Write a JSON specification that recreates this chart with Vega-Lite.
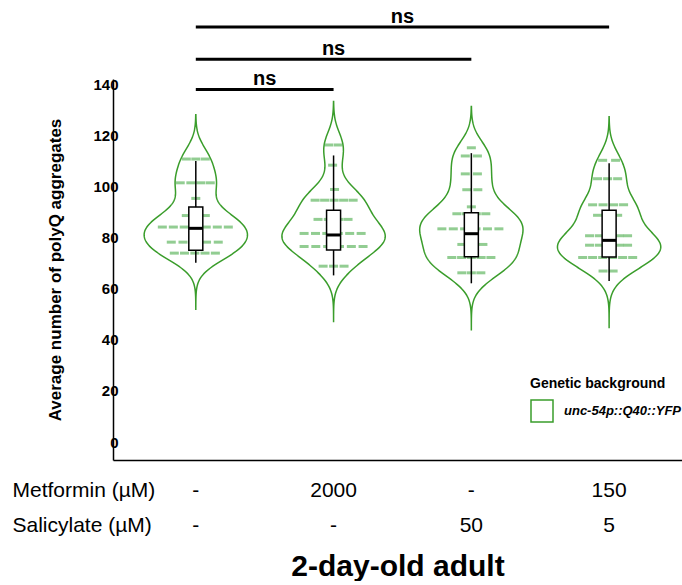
{
  "$schema": "https://vega.github.io/schema/vega-lite/v6.json",
  "padding": {"left": 12, "top": 7, "right": 0, "bottom": 0},
  "bounds": "flush",
  "spacing": 13,
  "config": {"font": "Liberation Sans", "view": {"stroke": null}, "axis": {"grid": false}, "scale": {"continuousPadding": 0}},
  "resolve": {"scale": {"x": "independent", "y": "independent"}, "legend": {"stroke": "independent"}},
  "datasets": {
    "points": [
      {"pos":1,"xj":0.931,"value":110.7},{"pos":1,"xj":1.000,"value":110.7},{"pos":1,"xj":1.069,"value":110.7},
      {"pos":1,"xj":0.887,"value":101.4},{"pos":1,"xj":0.964,"value":101.4},{"pos":1,"xj":1.036,"value":101.4},{"pos":1,"xj":1.105,"value":101.4},
      {"pos":1,"xj":1.000,"value":95.3},
      {"pos":1,"xj":0.931,"value":88.6},{"pos":1,"xj":1.000,"value":88.6},{"pos":1,"xj":1.069,"value":88.6},
      {"pos":1,"xj":0.757,"value":84.1},{"pos":1,"xj":0.837,"value":84.1},{"pos":1,"xj":0.916,"value":84.1},{"pos":1,"xj":0.996,"value":84.1},{"pos":1,"xj":1.076,"value":84.1},{"pos":1,"xj":1.156,"value":84.1},{"pos":1,"xj":1.236,"value":84.1},
      {"pos":1,"xj":0.822,"value":78.2},{"pos":1,"xj":0.907,"value":78.2},{"pos":1,"xj":0.993,"value":78.2},{"pos":1,"xj":1.078,"value":78.2},{"pos":1,"xj":1.163,"value":78.2},
      {"pos":1,"xj":0.844,"value":73.9},{"pos":1,"xj":0.918,"value":73.9},{"pos":1,"xj":0.993,"value":73.9},{"pos":1,"xj":1.067,"value":73.9},{"pos":1,"xj":1.142,"value":73.9},
      {"pos":2,"xj":1.964,"value":116.2},{"pos":2,"xj":2.033,"value":116.2},
      {"pos":2,"xj":1.993,"value":108.3},
      {"pos":2,"xj":2.007,"value":98.8},
      {"pos":2,"xj":1.866,"value":94.6},{"pos":2,"xj":1.935,"value":94.6},{"pos":2,"xj":2.004,"value":94.6},{"pos":2,"xj":2.073,"value":94.6},{"pos":2,"xj":2.142,"value":94.6},
      {"pos":2,"xj":1.887,"value":87.1},{"pos":2,"xj":1.962,"value":87.1},{"pos":2,"xj":2.038,"value":87.1},{"pos":2,"xj":2.105,"value":87.1},
      {"pos":2,"xj":1.786,"value":81.6},{"pos":2,"xj":1.869,"value":81.6},{"pos":2,"xj":1.951,"value":81.6},{"pos":2,"xj":2.034,"value":81.6},{"pos":2,"xj":2.117,"value":81.6},{"pos":2,"xj":2.200,"value":81.6},
      {"pos":2,"xj":1.786,"value":76.5},{"pos":2,"xj":1.871,"value":76.5},{"pos":2,"xj":1.957,"value":76.5},{"pos":2,"xj":2.043,"value":76.5},{"pos":2,"xj":2.129,"value":76.5},{"pos":2,"xj":2.214,"value":76.5},
      {"pos":2,"xj":1.924,"value":68.8},{"pos":2,"xj":2.000,"value":68.8},{"pos":2,"xj":2.076,"value":68.8},
      {"pos":3,"xj":3.000,"value":115.1},
      {"pos":3,"xj":2.956,"value":111.9},{"pos":3,"xj":3.044,"value":111.9},
      {"pos":3,"xj":2.956,"value":104.9},{"pos":3,"xj":3.044,"value":104.9},
      {"pos":3,"xj":2.967,"value":98.7},{"pos":3,"xj":3.047,"value":98.7},
      {"pos":3,"xj":3.000,"value":92.0},
      {"pos":3,"xj":2.895,"value":89.3},{"pos":3,"xj":2.964,"value":89.3},{"pos":3,"xj":3.036,"value":89.3},{"pos":3,"xj":3.105,"value":89.3},
      {"pos":3,"xj":2.786,"value":83.4},{"pos":3,"xj":2.869,"value":83.4},{"pos":3,"xj":2.951,"value":83.4},{"pos":3,"xj":3.034,"value":83.4},{"pos":3,"xj":3.117,"value":83.4},{"pos":3,"xj":3.200,"value":83.4},
      {"pos":3,"xj":2.931,"value":77.3},{"pos":3,"xj":3.007,"value":77.3},{"pos":3,"xj":3.084,"value":77.3},
      {"pos":3,"xj":2.858,"value":72.2},{"pos":3,"xj":2.929,"value":72.2},{"pos":3,"xj":3.000,"value":72.2},{"pos":3,"xj":3.071,"value":72.2},{"pos":3,"xj":3.142,"value":72.2},
      {"pos":3,"xj":2.931,"value":66.2},{"pos":3,"xj":3.000,"value":66.2},{"pos":3,"xj":3.069,"value":66.2},
      {"pos":4,"xj":3.953,"value":110.2},{"pos":4,"xj":4.047,"value":110.2},
      {"pos":4,"xj":3.916,"value":103.0},{"pos":4,"xj":3.989,"value":103.0},{"pos":4,"xj":4.062,"value":103.0},
      {"pos":4,"xj":3.880,"value":92.8},{"pos":4,"xj":3.956,"value":92.8},{"pos":4,"xj":4.033,"value":92.8},{"pos":4,"xj":4.105,"value":92.8},
      {"pos":4,"xj":3.916,"value":88.7},{"pos":4,"xj":3.989,"value":88.7},{"pos":4,"xj":4.062,"value":88.7},
      {"pos":4,"xj":3.858,"value":80.7},{"pos":4,"xj":3.929,"value":80.7},{"pos":4,"xj":4.000,"value":80.7},{"pos":4,"xj":4.071,"value":80.7},{"pos":4,"xj":4.134,"value":80.7},
      {"pos":4,"xj":3.858,"value":77.0},{"pos":4,"xj":3.929,"value":77.0},{"pos":4,"xj":4.000,"value":77.0},{"pos":4,"xj":4.071,"value":77.0},{"pos":4,"xj":4.134,"value":77.0},
      {"pos":4,"xj":3.808,"value":72.2},{"pos":4,"xj":3.880,"value":72.2},{"pos":4,"xj":3.953,"value":72.2},{"pos":4,"xj":4.025,"value":72.2},{"pos":4,"xj":4.098,"value":72.2},{"pos":4,"xj":4.171,"value":72.2},
      {"pos":4,"xj":3.956,"value":66.9},{"pos":4,"xj":4.029,"value":66.9}
    ],
    "ranges": [
      {"pos":1,"lo":51.9,"hi":128.2},
      {"pos":2,"lo":47.0,"hi":133.4},
      {"pos":3,"lo":43.9,"hi":131.4},
      {"pos":4,"lo":44.7,"hi":127.5}
    ],
    "box": [
      {"pos":1,"lo":70.1,"q1":75.0,"med":83.6,"q3":91.9,"hi":109.9},
      {"pos":2,"lo":65.2,"q1":75.1,"med":81.0,"q3":90.7,"hi":112.1},
      {"pos":3,"lo":62.1,"q1":72.5,"med":81.5,"q3":89.7,"hi":113.0},
      {"pos":4,"lo":63.0,"q1":72.4,"med":78.9,"q3":90.7,"hi":109.1}
    ],
    "sig": [
      {"from":1,"to":2,"level":137.9,"label":"ns"},
      {"from":1,"to":3,"level":149.7,"label":"ns"},
      {"from":1,"to":4,"level":162.3,"label":"ns"}
    ],
    "table": [
      {"pos":1,"row":"Metformin (µM)","val":"-"},
      {"pos":2,"row":"Metformin (µM)","val":"2000"},
      {"pos":3,"row":"Metformin (µM)","val":"-"},
      {"pos":4,"row":"Metformin (µM)","val":"150"},
      {"pos":1,"row":"Salicylate (µM)","val":"-"},
      {"pos":2,"row":"Salicylate (µM)","val":"-"},
      {"pos":3,"row":"Salicylate (µM)","val":"50"},
      {"pos":4,"row":"Salicylate (µM)","val":"5"}
    ]
  },
  "vconcat": [
    {
      "width": 569,
      "height": 381,
      "layer": [
        {
          "data": {"name": "points"},
          "transform": [
            {"density": "value", "groupby": ["pos"], "bandwidth": 5.5, "extent": [40, 136], "steps": 241},
            {"lookup": "pos", "from": {"data": {"name": "ranges"}, "key": "pos", "fields": ["lo", "hi"]}},
            {"filter": "datum.value >= datum.lo && datum.value <= datum.hi"},
            {"joinaggregate": [{"op": "max", "field": "density", "as": "dmax"}], "groupby": ["pos"]},
            {"calculate": "datum.pos - 0.375 * datum.density / datum.dmax", "as": "xl"},
            {"calculate": "datum.pos + 0.375 * datum.density / datum.dmax", "as": "xr"}
          ],
          "mark": {"type": "area", "orient": "horizontal", "fill": "white", "fillOpacity": 0, "strokeWidth": 1.5},
          "encoding": {
            "y": {
              "field": "value", "type": "quantitative",
              "scale": {"domain": [-7, 142], "nice": false, "zero": false, "padding": 0},
              "axis": {
                "values": [0, 20, 40, 60, 80, 100, 120, 140],
                "title": "Average number of polyQ aggregates",
                "titleFontSize": 17, "titleFontWeight": "bold", "titleColor": "black", "titlePadding": 28,
                "labelFontSize": 15, "labelFontWeight": "bold", "labelColor": "black",
                "ticks": false, "tickSize": 0, "labelPadding": -5,
                "domainColor": "black", "domainWidth": 1.5, "grid": false
              }
            },
            "x": {
              "field": "xl", "type": "quantitative",
              "scale": {"domain": [0.399, 4.529], "nice": false, "zero": false, "padding": 0},
              "axis": {"labels": false, "ticks": false, "title": null, "domainColor": "black", "domainWidth": 1.5, "grid": false}
            },
            "x2": {"field": "xr"},
            "detail": {"field": "pos", "type": "nominal"},
            "stroke": {
              "datum": "unc-54p::Q40::YFP", "type": "nominal",
              "scale": {"range": ["#3a9d2b"]},
              "legend": {
                "title": "Genetic background", "orient": "none", "legendX": 417, "legendY": 298,
                "titleFontSize": 14, "titleFontWeight": "bold", "titleColor": "black", "titlePadding": 8,
                "labelFontSize": 13, "labelFontWeight": "bold", "labelFontStyle": "italic", "labelColor": "black", "labelOffset": 10,
                "symbolType": "square", "symbolSize": 484, "symbolStrokeWidth": 1.5, "symbolFillColor": "white", "padding": 0
              }
            }
          }
        },
        {
          "data": {"name": "points"},
          "mark": {"type": "tick", "orient": "horizontal", "size": 9, "thickness": 3, "color": "#4aab4a", "opacity": 0.6},
          "encoding": {
            "x": {"field": "xj", "type": "quantitative"},
            "y": {"field": "value", "type": "quantitative"}
          }
        },
        {
          "data": {"name": "box"},
          "mark": {"type": "rule", "color": "black", "strokeWidth": 1.5},
          "encoding": {
            "x": {"field": "pos", "type": "quantitative"},
            "y": {"field": "lo", "type": "quantitative"},
            "y2": {"field": "hi"}
          }
        },
        {
          "data": {"name": "box"},
          "mark": {"type": "bar", "orient": "vertical", "size": 14, "fill": "white", "stroke": "black", "strokeWidth": 1.5},
          "encoding": {
            "x": {"field": "pos", "type": "quantitative"},
            "y": {"field": "q1", "type": "quantitative"},
            "y2": {"field": "q3"}
          }
        },
        {
          "data": {"name": "box"},
          "mark": {"type": "tick", "orient": "horizontal", "size": 14, "thickness": 3, "color": "black", "opacity": 1},
          "encoding": {
            "x": {"field": "pos", "type": "quantitative"},
            "y": {"field": "med", "type": "quantitative"}
          }
        },
        {
          "data": {"name": "sig"},
          "mark": {"type": "rule", "color": "black", "strokeWidth": 3},
          "encoding": {
            "x": {"field": "from", "type": "quantitative"},
            "x2": {"field": "to"},
            "y": {"field": "level", "type": "quantitative"}
          }
        },
        {
          "data": {"name": "sig"},
          "transform": [{"calculate": "(datum.from + datum.to) / 2", "as": "mid"}],
          "mark": {"type": "text", "fontSize": 20, "fontWeight": "bold", "baseline": "alphabetic", "dy": -4, "color": "black"},
          "encoding": {
            "x": {"field": "mid", "type": "quantitative"},
            "y": {"field": "level", "type": "quantitative"},
            "text": {"field": "label"}
          }
        }
      ]
    },
    {
      "width": 569,
      "height": 70,
      "data": {"name": "table"},
      "mark": {"type": "text", "fontSize": 21, "color": "black"},
      "encoding": {
        "x": {
          "field": "pos", "type": "quantitative",
          "scale": {"domain": [0.399, 4.529], "nice": false, "zero": false, "padding": 0},
          "axis": {"domain": false, "ticks": false, "labels": false, "grid": false, "title": "2-day-old adult", "titleFontSize": 30, "titleFontWeight": "bold", "titleColor": "black", "titlePadding": 8}
        },
        "y": {
          "field": "row", "type": "nominal", "sort": null,
          "scale": {"paddingInner": 0, "paddingOuter": 0},
          "axis": {"title": null, "domain": false, "ticks": false, "tickSize": 0, "labelAlign": "left", "labelPadding": 101, "labelFontSize": 21, "labelColor": "black", "labelBaseline": "middle", "labelLimit": 300}
        },
        "text": {"field": "val"}
      }
    }
  ]
}
